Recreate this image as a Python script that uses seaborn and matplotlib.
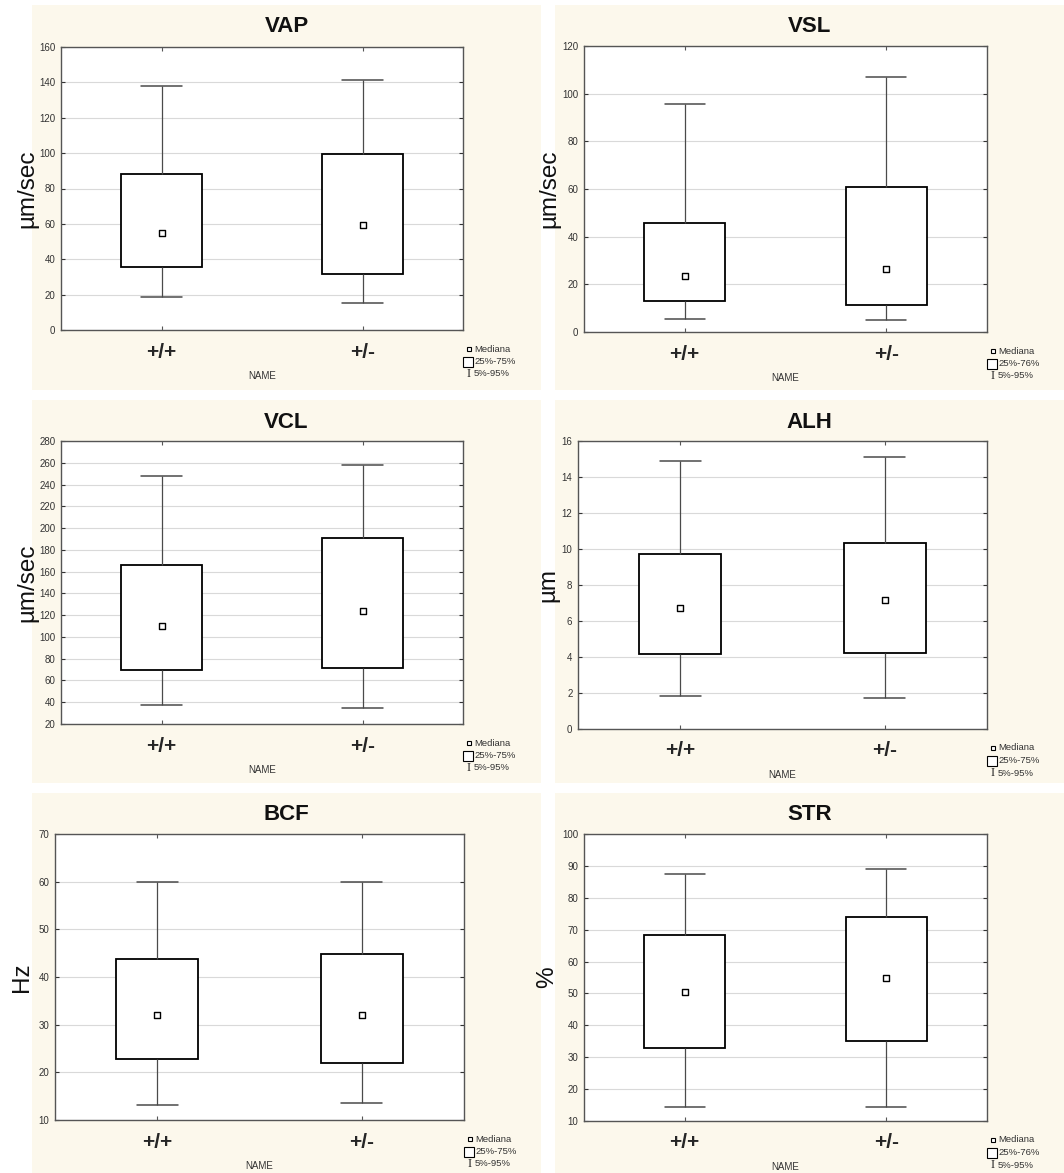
import numpy as np
import pandas as pd
import matplotlib
matplotlib.use("Agg")
import matplotlib.pyplot as plt
from matplotlib.patches import Rectangle
import seaborn as sns

# Five-number summaries per genotype: [5%, 25%, median, 75%, 95%]
groups = ["+/+", "+/-"]

vap_wt = [18.4, 35.4, 55.0, 88.1, 137.8]
vap_het = [15.4, 31.4, 59.3, 99.4, 141.6]

vsl_wt = [5.6, 13.0, 23.5, 45.8, 95.8]
vsl_het = [5.0, 11.5, 26.3, 61.0, 107.2]

vcl_wt = [37.1, 69.2, 110.4, 165.7, 247.9]
vcl_het = [34.7, 71.9, 123.6, 191.1, 257.7]

alh_wt = [1.83, 4.15, 6.72, 9.70, 14.90]
alh_het = [1.74, 4.22, 7.19, 10.31, 15.13]

bcf_wt = [13.2, 22.8, 32.0, 43.8, 60.0]
bcf_het = [13.5, 22.0, 32.0, 44.8, 60.0]

str_wt = [14.3, 32.9, 50.6, 68.2, 87.6]
str_het = [14.3, 35.1, 54.8, 74.0, 88.9]

W, H = 1064, 1173
sns.set_theme(style="ticks")
plt.rcParams["font.family"] = ["Liberation Sans", "DejaVu Sans"]

fig = plt.figure(figsize=(W / 100, H / 100), dpi=100)
fig.patch.set_facecolor("white")

cream = "#fcf8ec"
cols = [(32, 541), (555, 1064)]
rows = [(5, 390), (400, 783), (793, 1173)]
for (y0, y1) in rows:
    for (x0, x1) in cols:
        fig.add_artist(Rectangle((x0 / W, 1 - y1 / H), (x1 - x0) / W, (y1 - y0) / H,
                                 transform=fig.transFigure, facecolor=cream,
                                 edgecolor="none", zorder=-5))

# title, unit, data, y-range, axes box (px: left, right, top, bottom), ylabel x, title y, legend text
panels = [
    ("VAP", "µm/sec", vap_wt, vap_het, (0, 160, 20), (61, 463, 47, 330), 27, 27, "25%-75%"),
    ("VSL", "µm/sec", vsl_wt, vsl_het, (0, 120, 20), (584, 987, 46, 332), 549, 26, "25%-76%"),
    ("VCL", "µm/sec", vcl_wt, vcl_het, (20, 280, 20), (61, 463, 441, 724), 27, 422, "25%-75%"),
    ("ALH", "µm", alh_wt, alh_het, (0, 16, 2), (578, 987, 441, 729), 548, 422, "25%-75%"),
    ("BCF", "Hz", bcf_wt, bcf_het, (10, 70, 10), (55, 464, 834, 1120), 22, 815, "25%-75%"),
    ("STR", "%", str_wt, str_het, (10, 100, 10), (584, 987, 834, 1121), 547, 815, "25%-76%"),
]

for i, (title, unit, wt, het, (ymin, ymax, ystep), (l, r, t, b), ylx, tty, pct) in enumerate(panels):
    ax = fig.add_axes([l / W, 1 - b / H, (r - l) / W, (b - t) / H])
    ax.set_facecolor("white")

    df = pd.DataFrame({
        "NAME": [groups[0]] * len(wt) + [groups[1]] * len(het),
        "value": wt + het,
    })
    sns.boxplot(data=df, x="NAME", y="value", order=groups, ax=ax,
                whis=(0, 100), width=0.4, color="white", linecolor="black",
                linewidth=1.3, showfliers=False,
                whiskerprops=dict(color="#4a4a4a", linewidth=0.9),
                capprops=dict(color="#4a4a4a", linewidth=1.1),
                medianprops=dict(visible=False))

    med = pd.DataFrame({"NAME": groups, "value": [wt[2], het[2]]})
    sns.stripplot(data=med, x="NAME", y="value", order=groups, ax=ax,
                  jitter=False, marker="s", size=4.2, color="white",
                  edgecolor="black", linewidth=1.0, zorder=6)

    ax.set_xlim(-0.5, 1.5)
    ax.set_ylim(ymin, ymax)
    ax.set_yticks(np.arange(ymin, ymax + ystep / 2, ystep))
    ax.set_axisbelow(True)
    ax.grid(axis="y", color="#d9d9d9", linewidth=0.8)
    ax.grid(axis="x", visible=False)

    for s in ax.spines.values():
        s.set_color("#555555")
        s.set_linewidth(1.0)
        s.set_visible(True)

    ax.tick_params(axis="y", direction="in", length=3, width=0.8, left=True, right=True,
                   labelsize=7, labelcolor="#333333", color="#333333", pad=4)
    ax.tick_params(axis="x", direction="in", length=3, width=0.8, top=True, bottom=True,
                   labelsize=15, pad=9, color="#555555")
    for lab in ax.get_xticklabels():
        lab.set_fontweight("bold")

    ax_w = r - l
    ax_h = b - t

    ax.set_ylabel("")
    ax.set_xlabel("NAME", fontsize=7, color="#333333")
    ax.xaxis.set_label_coords(0.5, -41 / ax_h)
    ax.xaxis.label.set_verticalalignment("top")

    fig.text(ylx / W, 1 - ((t + b) / 2) / H, unit, rotation=90, ha="center",
             va="center", fontsize=17.5, color="#111111")

    colc = cols[0] if l < 500 else cols[1]
    fig.text(((colc[0] + colc[1]) / 2) / W, 1 - tty / H, title, ha="center",
             va="center", fontsize=16, fontweight="bold", color="#111111")

    # key to the box symbols, placed below the right end of the plot area
    kx = 1 + 6 / ax_w
    tx = 1 + 11 / ax_w
    for j, txt in enumerate(["Mediana", pct, "5%-95%"]):
        ky = -(19 + 12.5 * j) / ax_h
        ax.text(tx, ky, txt, transform=ax.transAxes, fontsize=6.8, color="#333333",
                ha="left", va="center")
    ax.plot([kx], [-19 / ax_h], transform=ax.transAxes, marker="s", markersize=3,
            markerfacecolor="white", markeredgecolor="black", markeredgewidth=0.8,
            clip_on=False)
    ax.plot([kx - 1 / ax_w], [-31.5 / ax_h], transform=ax.transAxes, marker="s",
            markersize=7.5, markerfacecolor="white", markeredgecolor="black",
            markeredgewidth=0.8, clip_on=False)
    ax.text(kx, -44 / ax_h, "I", transform=ax.transAxes, fontsize=9,
            family="Liberation Serif", ha="center", va="center", color="#222222")

fig.savefig("out.png", dpi=100, facecolor="white")
